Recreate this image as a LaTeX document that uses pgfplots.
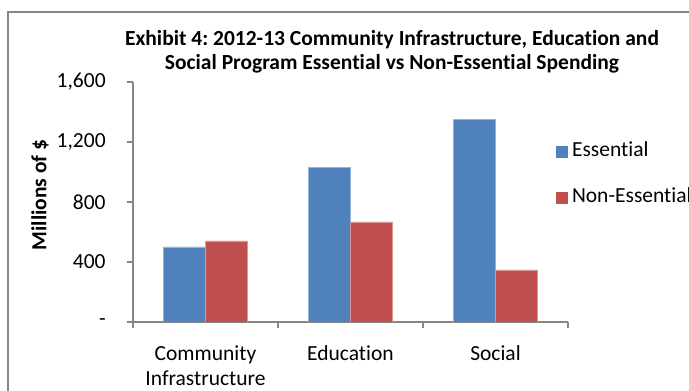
\documentclass[border=0pt]{standalone}
\usepackage{pgfplots}
\pgfplotsset{compat=1.18}
\usepackage{fontspec}
\setmainfont{Carlito}[RawFeature={-liga}]
\definecolor{ess}{HTML}{4F81BD}
\definecolor{noness}{HTML}{C0504D}
\definecolor{axgray}{HTML}{868686}
\newcommand{\fs}{\fontsize{21.5}{25}\selectfont}
\begin{document}
\frenchspacing
\fs
\begin{tikzpicture}
\useasboundingbox (0pt,0pt) rectangle (689pt,391pt);
\draw[axgray, line width=1.5pt] (8pt,0pt) -- (8pt,379pt) -- (689pt,379pt);
\node[font=\bfseries, align=center, inner sep=0pt] at (392pt,339.5pt) {Exhibit 4: 2012-13 Community Infrastructure, Education and\\[-1pt]Social Program Essential vs Non-Essential Spending};
\begin{axis}[
  at={(133pt,69pt)}, anchor=south west,
  scale only axis, width=435pt, height=240pt,
  xmin=-0.5, xmax=2.5, ymin=0, ymax=1600,
  axis x line*=bottom, axis y line*=left,
  axis line style={axgray, line width=1.5pt},
  ybar=0pt, bar width=42pt,
  xtick={0,1,2},
  xticklabels={{Community\\Infrastructure},Education,Social},
  xticklabel style={align=center, font=\fs, yshift=-10pt},
  major x tick style={draw=none},
  minor xtick={-0.5,0.5,1.5,2.5},
  minor x tick style={axgray, line width=1.5pt},
  minor tick length=6pt,
  ytick={0,400,800,1200,1600},
  yticklabels={-,400,800,{1,200},{1,600}},
  yticklabel style={font=\fs, xshift=-14pt},
  major y tick style={axgray, line width=1.5pt},
  major tick length=6pt,
  tick align=outside,
  ylabel={\bfseries Millions of \$},
  ylabel style={at={(axis description cs:-0.214,0.53)}, anchor=center, font=\fs},
  legend style={at={(axis description cs:0.972,0.6125)}, anchor=west, draw=none, fill=none, inner sep=0pt,
    font=\fs, row sep=24pt,
    nodes={inner sep=2pt, text height=14pt, text depth=4pt}},
  legend cell align=left,
  legend image code/.code={\fill[#1, draw=none] (0pt,-6pt) rectangle (12pt,6pt);},
]
\addplot[fill=ess, draw=ess!60!white, line width=0.6pt] coordinates {(0,500) (1,1030) (2,1350)};
\addplot[fill=noness, draw=noness!60!white, line width=0.6pt] coordinates {(0,540) (1,667) (2,347)};
\legend{\hspace{2pt}Essential,\hspace{2pt}Non-Essential}
\end{axis}
\end{tikzpicture}
\end{document}
